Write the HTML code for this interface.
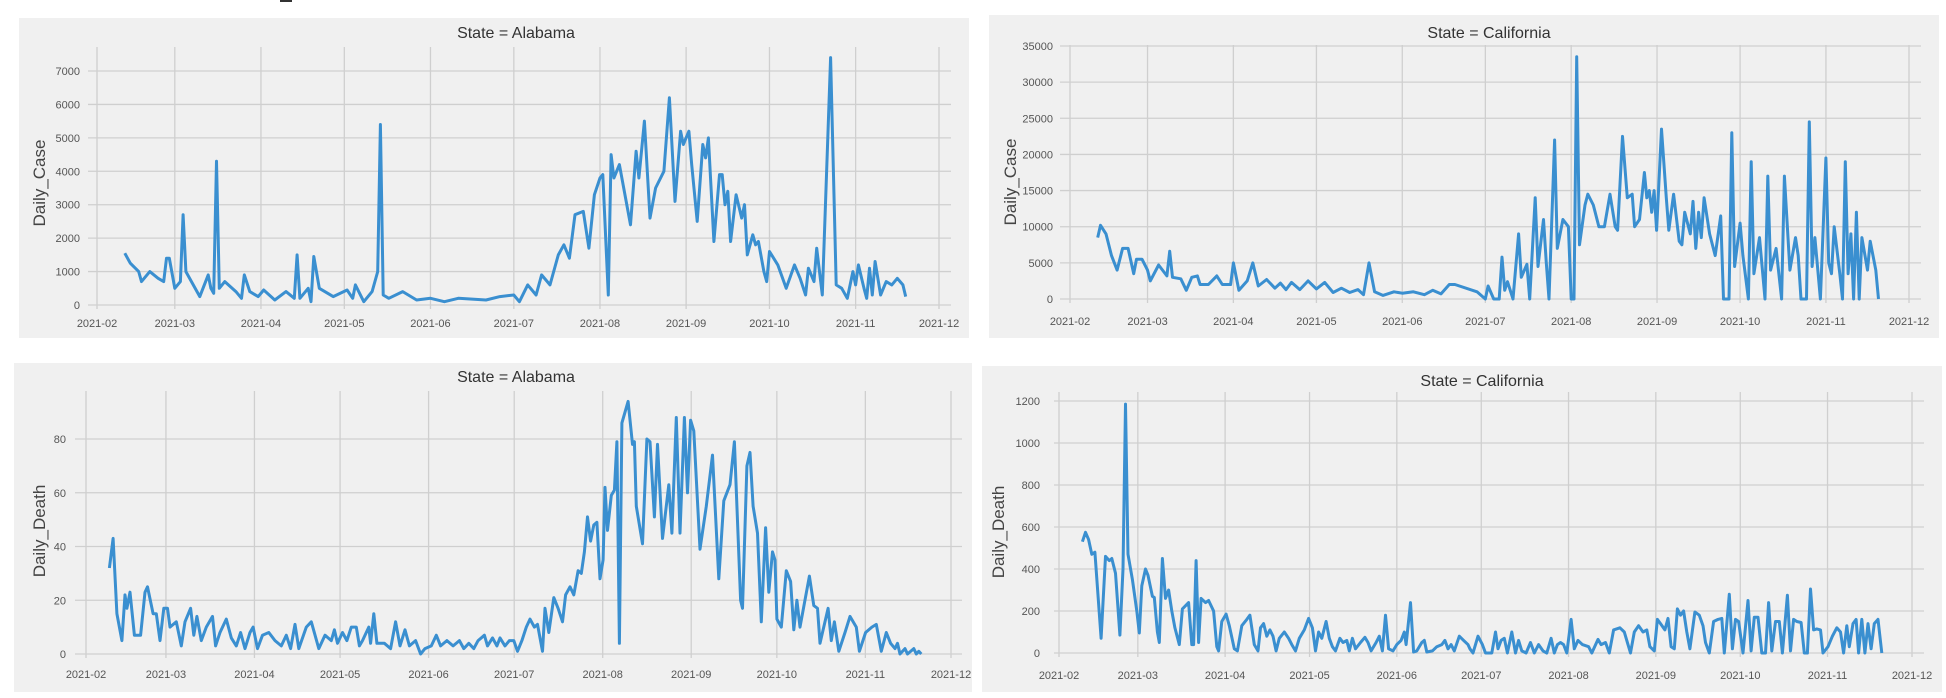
<!DOCTYPE html>
<html><head><meta charset="utf-8"><style>
html,body{margin:0;padding:0;background:#fff;}
svg{display:block;font-family:"Liberation Sans",sans-serif;}
</style></head><body>
<svg id="s" width="1946" height="698" xmlns="http://www.w3.org/2000/svg"></svg>
<script>
const S=document.getElementById('s');let h='';
const md=[0,28,59,89,120,150,181,212,242,273,303];
const ml=['2021-02','2021-03','2021-04','2021-05','2021-06','2021-07','2021-08','2021-09','2021-10','2021-11','2021-12'];
function panel(p){
 h+=`<rect x="${p.bx0}" y="${p.by0}" width="${p.bx1-p.bx0}" height="${p.by1-p.by0}" fill="#f0f0f0"/>`;
 const X=d=>p.t0+d*(p.t1-p.t0)/303, Y=v=>p.y0-v*p.ys;
 for(const v of p.yt){const y=Y(v);h+=`<line x1="${p.gx0}" x2="${p.gx1}" y1="${y}" y2="${y}" stroke="#cfcfcf" stroke-width="1.3"/>`;
  h+=`<text x="${p.lx}" y="${y+4}" font-size="11" fill="#555" text-anchor="end">${v}</text>`;}
 md.forEach((d,i)=>{const x=X(d);h+=`<line x1="${x}" x2="${x}" y1="${p.gy0}" y2="${p.y0+4}" stroke="#cfcfcf" stroke-width="1.3"/>`;
  h+=`<text x="${x}" y="${p.xl}" font-size="11" fill="#555" text-anchor="middle">${ml[i]}</text>`;});
 h+=`<text x="${p.tx}" y="${p.ty}" font-size="16" fill="#333" text-anchor="middle">${p.title}</text>`;
 h+=`<text transform="translate(${p.ylx},${p.yly}) rotate(-90)" font-size="17" fill="#444" text-anchor="middle">${p.yl}</text>`;
 const pts=p.data.map(([a,v])=>{const x=p.zx?p.zx(a):X(a);return x.toFixed(1)+','+Y(v).toFixed(1)}).join(' ');
 h+=`<polyline points="${pts}" fill="none" stroke="#3a8fd0" stroke-width="3" stroke-linejoin="round"/>`;
}
const AC=[[10,1550],[12,1250],[15,1000],[16,700],[19,1000],[22,800],[24,700],[25,1400],[26,1400],[28,500],[30,700],[31,2700],[32,1000],[37,250],[40,900],[41,500],[42,350],[43,4300],[44,500],[46,700],[50,400],[52,200],[53,900],[55,400],[58,250],[60,450],[64,150],[68,400],[71,200],[72,1500],[73,200],[76,500],[77,100],[78,1450],[80,500],[85,250],[90,450],[92,200],[93,600],[96,100],[99,400],[101,1000],[102,5400],[103,300],[105,200],[110,400],[115,150],[120,200],[125,100],[130,200],[140,150],[145,250],[150,300],[152,100],[155,600],[158,300],[160,900],[163,600],[166,1500],[168,1800],[170,1400],[172,2700],[175,2800],[177,1700],[179,3300],[181,3800],[182,3900],[184,300],[185,4500],[186,3800],[188,4200],[192,2400],[194,4600],[195,3800],[197,5500],[199,2600],[201,3500],[204,4000],[206,6200],[208,3100],[210,5200],[211,4800],[213,5200],[214,4200],[216,2500],[218,4800],[219,4400],[220,5000],[222,1900],[224,3900],[225,3900],[226,3000],[227,3400],[228,1900],[230,3300],[232,2600],[233,3000],[234,1500],[236,2100],[237,1800],[238,1900],[240,1000],[241,700],[242,1600],[245,1200],[248,500],[251,1200],[253,800],[255,300],[256,1100],[258,700],[259,1700],[261,300],[264,7400],[266,600],[268,500],[270,200],[272,1000],[273,600],[274,1200],[276,500],[277,200],[278,1100],[279,300],[280,1300],[282,300],[284,700],[286,600],[288,800],[290,600],[291,250]];
const CC0=[[10,8500],[11,10200],[13,9000],[15,6000],[17,4000],[19,7000],[21,7000],[23,3500],[24,5500],[26,5500],[28,4000],[29,2500],[32,4700],[35,3200],[36,6600],[37,3000],[40,2800],[42,1200],[44,3000],[46,3200],[47,2000],[50,2000],[53,3200],[55,2000],[58,2000],[59,5000],[61,1200],[64,2500],[66,5000],[68,1800],[71,2700],[74,1500],[76,2200],[78,1300],[80,2300],[83,1300],[86,2500],[89,1400],[92,2300],[95,900],[98,1500],[101,900],[104,1300],[106,600],[108,5000],[110,1000],[113,500],[117,1000],[120,800],[124,1000],[128,600],[131,1200],[134,700],[137,2000],[139,2000],[141,1000],[144,0],[145,1800],[147,0],[149,0],[150,5800],[151,1200],[152,2400],[154,0],[156,9000],[157,3000],[159,4800],[160,0],[162,14000],[163,4500],[165,11000],[166,5000],[167,0],[169,22000],[170,7000],[172,11000],[174,10000],[175,0],[176,0],[177,33500],[178,7500],[180,13000],[181,14500],[183,13000],[185,10000],[187,10000],[189,14500],[191,10000],[192,9500],[194,22500],[196,14000],[198,14500],[199,10000],[201,11000],[203,17500],[204,14000],[205,15000],[206,12000],[207,15000],[208,9500],[210,23500],[212,14000],[213,9500],[215,14500],[217,8000],[218,7500],[219,12000],[221,9000],[222,13500],[223,7000],[224,12000],[225,8500],[226,14000],[228,9000],[230,6000],[232,11500],[233,0],[235,0],[236,23000],[237,4500],[239,10500],[240,6000],[242,0],[243,19000],[244,3500],[246,8500],[248,0],[249,17000],[250,4000],[252,7000],[254,0],[255,17000],[257,4000],[259,8500],[260,6000],[261,0],[263,0],[264,24500],[265,4500],[266,8500],[268,0],[270,19500],[271,5000],[272,3500],[273,10000],[275,3500],[276,0],[277,19000],[278,3500],[279,9000],[280,0],[281,12000],[282,0],[283,8500],[285,4000],[286,8000],[288,4000],[289,0]];
const CC=CC0.map(([d,v])=>{const s=d<140?0:d<190?6:d<215?6-3*(d-190)/25:3;return [d+s,v]});
const AD=[[175,32],[181,43],[187,15],[195,5],[200,22],[203,17],[208,23],[215,7],[225,7],[232,23],[236,25],[245,15],[250,15],[256,5],[262,17],[268,17],[272,10],[282,12],[290,3],[296,12],[305,17],[310,7],[315,14],[322,5],[330,10],[340,14],[345,3],[352,8],[362,13],[370,6],[378,3],[385,8],[392,2],[400,8],[405,10],[412,2],[420,7],[430,8],[440,5],[450,3],[458,7],[465,2],[472,11],[478,2],[490,10],[498,12],[510,2],[520,7],[530,5],[535,9],[540,4],[548,8],[555,5],[562,10],[570,10],[575,3],[580,5],[590,10],[593,4],[598,15],[603,4],[615,4],[625,2],[633,12],[640,3],[648,9],[655,3],[665,5],[673,0],[680,2],[690,3],[698,7],[705,3],[715,5],[725,3],[735,5],[742,2],[750,4],[758,2],[765,5],[775,7],[780,3],[788,6],[795,3],[800,6],[808,3],[815,5],[822,5],[828,1],[835,5],[842,10],[848,13],[855,10],[860,11],[868,1],[872,17],[878,8],[886,21],[893,17],[900,12],[905,22],[912,25],[918,22],[925,31],[930,30],[935,38],[940,51],[945,42],[950,48],[955,49],[960,28],[965,35],[968,62],[972,46],[978,59],[983,61],[987,79],[991,4],[995,86],[1005,94],[1012,78],[1015,79],[1018,55],[1028,41],[1035,80],[1040,79],[1047,51],[1052,78],[1060,43],[1070,63],[1075,45],[1082,88],[1088,45],[1095,88],[1100,60],[1105,87],[1110,83],[1120,39],[1130,55],[1140,74],[1150,28],[1158,57],[1168,63],[1175,79],[1185,20],[1188,17],[1195,70],[1200,75],[1205,55],[1212,45],[1218,12],[1225,47],[1230,23],[1236,38],[1240,35],[1243,13],[1250,10],[1258,31],[1265,27],[1270,9],[1275,20],[1280,10],[1295,29],[1302,18],[1308,17],[1312,4],[1325,17],[1330,5],[1335,12],[1342,1],[1352,8],[1360,14],[1370,10],[1375,1],[1385,8],[1395,10],[1402,11],[1410,1],[1418,8],[1425,4],[1432,2],[1436,4],[1440,0],[1448,2],[1452,0],[1462,2],[1466,0],[1470,1],[1474,0]];
const CD=[[175,530],[180,575],[185,540],[190,470],[195,480],[205,70],[212,460],[218,440],[222,450],[228,380],[235,85],[240,400],[244,1185],[248,470],[255,350],[262,200],[266,95],[270,320],[276,400],[280,370],[287,270],[290,265],[295,100],[298,50],[303,450],[308,260],[313,300],[318,200],[323,120],[330,40],[335,210],[345,240],[350,40],[353,40],[357,440],[361,50],[365,260],[372,240],[377,250],[385,200],[390,30],[393,10],[398,150],[405,185],[410,130],[418,20],[423,10],[430,130],[438,160],[443,180],[450,40],[456,10],[460,120],[465,140],[470,80],[475,110],[480,80],[485,10],[490,70],[498,100],[505,70],[510,40],[516,10],[522,70],[530,110],[537,165],[543,120],[548,10],[553,100],[558,70],[565,150],[570,70],[575,30],[580,10],[587,70],[592,50],[598,60],[602,10],[607,70],[612,20],[620,50],[627,75],[632,50],[637,10],[645,50],[650,80],[655,10],[660,180],[665,20],[672,10],[678,40],[685,60],[690,100],[693,40],[700,240],[705,5],[710,10],[718,50],[722,60],[726,5],[735,10],[742,30],[750,40],[755,60],[760,20],[765,40],[770,10],[778,80],[785,60],[792,40],[795,20],[800,0],[808,80],[815,40],[820,0],[830,0],[836,100],[840,20],[845,60],[850,70],[855,0],[862,100],[868,0],[873,60],[878,10],[885,0],[892,50],[898,0],[905,40],[912,10],[918,0],[925,70],[930,0],[935,40],[940,50],[945,40],[950,0],[957,160],[962,20],[968,60],[975,40],[985,30],[990,0],[1000,65],[1005,40],[1012,50],[1018,0],[1025,110],[1035,120],[1042,100],[1048,40],[1052,0],[1058,100],[1065,130],[1072,100],[1078,110],[1083,30],[1090,10],[1095,160],[1100,140],[1107,110],[1112,165],[1117,30],[1122,20],[1127,210],[1132,180],[1137,200],[1142,100],[1147,20],[1155,195],[1162,180],[1168,130],[1172,50],[1178,0],[1185,150],[1192,160],[1198,165],[1202,0],[1210,280],[1215,20],[1220,160],[1225,150],[1232,0],[1240,250],[1245,10],[1250,170],[1256,170],[1262,0],[1268,0],[1273,240],[1278,10],[1284,150],[1290,150],[1295,0],[1303,275],[1308,10],[1313,160],[1318,150],[1325,145],[1330,0],[1335,0],[1340,305],[1345,110],[1350,115],[1356,110],[1360,0],[1368,30],[1375,80],[1382,120],[1388,100],[1393,0],[1398,130],[1402,30],[1408,140],[1413,160],[1417,0],[1422,160],[1427,0],[1432,140],[1437,20],[1442,140],[1448,160],[1454,0]];
const r=(a,b,s)=>{const o=[];for(let v=a;v<=b;v+=s)o.push(v);return o};
panel({bx0:19,bx1:969,by0:18,by1:338,t0:97,t1:939,y0:305,ys:(305-71)/7000,gx0:88,gx1:951,gy0:47,yt:r(0,7000,1000),lx:80,xl:327,tx:516,ty:38,ylx:45,yly:183,title:'State = Alabama',yl:'Daily_Case',data:AC});
panel({bx0:989,bx1:1939,by0:15,by1:338,t0:1070,t1:1909,y0:299,ys:(299-46)/35000,gx0:1060,gx1:1921,gy0:45,yt:r(0,35000,5000),lx:1053,xl:325,tx:1489,ty:38,ylx:1016,yly:182,title:'State = California',yl:'Daily_Case',data:CC});
panel({bx0:14,bx1:972,by0:363,by1:692,t0:86,t1:951,y0:654,ys:(654-439)/80,gx0:75,gx1:962,gy0:391,yt:r(0,80,20),lx:66,xl:678,tx:516,ty:382,ylx:45,yly:531,title:'State = Alabama',yl:'Daily_Death',data:AD,zx:z=>z*0.625});
panel({bx0:982,bx1:1942,by0:366,by1:692,t0:1059,t1:1912,y0:653,ys:(653-401)/1200,gx0:1054,gx1:1924,gy0:392,yt:r(0,1200,200),lx:1040,xl:679,tx:1482,ty:386,ylx:1004,yly:532,title:'State = California',yl:'Daily_Death',data:CD,zx:z=>973+z*0.625});
h+='<line x1="280" x2="292" y1="1" y2="1" stroke="#333" stroke-width="2"/>';
S.innerHTML=h;
</script>
</body></html>
